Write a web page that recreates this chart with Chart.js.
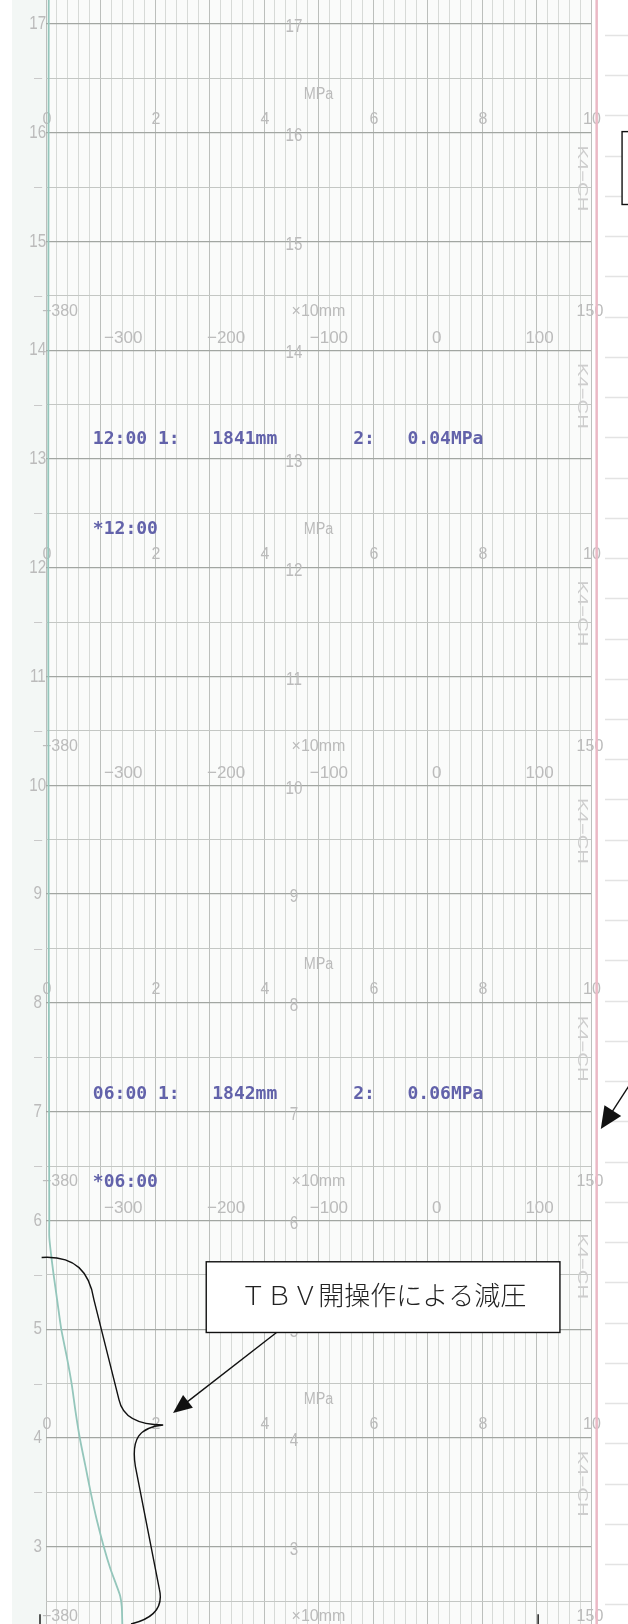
<!DOCTYPE html>
<html>
<head>
<meta charset="utf-8">
<script src="https://cdn.jsdelivr.net/npm/chart.js@4.4.1/dist/chart.umd.min.js"></script>
<style>
  html, body { margin: 0; padding: 0; background: #fff; }
  canvas { display: block; }
</style>
</head>
<body>
<canvas id="chart" width="628" height="1624"></canvas>
<script>
// pen 2 (pressure, MPa), time runs downward
const traceHours = [17.22, 12.0, 6.0, 5.85, 5.7, 5.5, 5.25, 5.0, 4.75, 4.5, 4.25, 4.0, 3.75, 3.5, 3.25, 3.0, 2.8, 2.65, 2.55, 2.45, 2.29];
const tracePressure = [0.05, 0.04, 0.06, 0.06, 0.09, 0.14, 0.21, 0.28, 0.38, 0.47, 0.54, 0.62, 0.72, 0.82, 0.93, 1.06, 1.18, 1.29, 1.36, 1.39, 1.40];

// pen 1 (level, x10mm) is off scale, the pen sits just past the 150 mark
const levelHours = [17.22, 2.29];
const levelPen = [155.5, 155.5];

// recorder printouts
const printTimes = ["12:00", "06:00"];
const printHours = [13.18, 7.16];
const printStarHours = [12.35, 6.35];
const printLevel = [1841, 1842];
const printPressure = [0.04, 0.06];

// printed scale text on the paper
const hourTicks = [17, 16, 15, 14, 13, 12, 11, 10, 9, 8, 7, 6, 5, 4, 3];
const mpaTicks = [0, 2, 4, 6, 8, 10];
const mmTicks = [-300, -200, -100, 0, 100];
const mpaRowHours = [16, 12, 8, 4];
const mmRowHours = [14, 10, 6, 2];
const tagRowHours = [15, 13, 11, 9, 7, 5, 3];

const note = "ＴＢＶ開操作による減圧";

const GRAY = "#bbbbbb";
const BLUE = "#6262aa";

function txt(ctx, s, x, y, font, color, align, sx) {
  ctx.save();
  ctx.translate(x, y);
  ctx.scale(sx || 1, 1);
  ctx.font = font;
  ctx.fillStyle = color;
  ctx.textAlign = align || "center";
  ctx.textBaseline = "middle";
  ctx.fillText(s, 0, 0);
  ctx.restore();
}

function arrow(ctx, x0, y0, x1, y1, len, half) {
  const a = Math.atan2(y1 - y0, x1 - x0);
  ctx.beginPath();
  ctx.moveTo(x0, y0);
  ctx.lineTo(x1 - Math.cos(a) * len * 0.8, y1 - Math.sin(a) * len * 0.8);
  ctx.stroke();
  ctx.beginPath();
  ctx.moveTo(x1, y1);
  ctx.lineTo(x1 - Math.cos(a) * len - Math.sin(a) * half, y1 - Math.sin(a) * len + Math.cos(a) * half);
  ctx.lineTo(x1 - Math.cos(a) * len + Math.sin(a) * half, y1 - Math.sin(a) * len - Math.cos(a) * half);
  ctx.closePath();
  ctx.fill();
}

const paper = {
  id: "paper",
  beforeDraw(chart) {
    const { ctx, chartArea: a } = chart;
    const y = chart.scales.y;
    ctx.save();
    ctx.fillStyle = "#ffffff";
    ctx.fillRect(0, 0, chart.width, chart.height);
    ctx.fillStyle = "#f3f7f5";
    ctx.fillRect(12, 0, a.left - 12, chart.height);
    ctx.fillStyle = "#fafbfa";
    ctx.fillRect(a.left, a.top, a.width, a.height);
    // faint ruling of the next sheet on the right
    ctx.strokeStyle = "#e3e3e3";
    ctx.lineWidth = 1.5;
    for (let h = 16.9; h > 2.4; h -= 0.37) {
      const py = Math.round(y.getPixelForValue(h)) + 0.5;
      ctx.beginPath();
      ctx.moveTo(605, py);
      ctx.lineTo(628, py);
      ctx.stroke();
    }
    ctx.restore();
  },
  beforeDatasetsDraw(chart) {
    const { ctx } = chart;
    const x = chart.scales.x, x2 = chart.scales.x2, y = chart.scales.y;
    const num = "16px 'Liberation Sans', sans-serif";

    // hour numbers: left margin and centre of the sheet
    hourTicks.forEach(h => {
      txt(ctx, String(h), x.getPixelForValue(-0.15), y.getPixelForValue(h), "19px 'Liberation Sans', sans-serif", GRAY, "center", 0.8);
      txt(ctx, String(h), x.getPixelForValue(4.55), y.getPixelForValue(h) + 3, "19px 'Liberation Sans', sans-serif", GRAY, "center", 0.8);
    });
    ctx.save();
    ctx.strokeStyle = "#c9c9c9";
    ctx.lineWidth = 1;
    hourTicks.forEach(h => {
      if (h === 17) return;
      const py = Math.round(y.getPixelForValue(h + 0.5)) + 0.5;
      ctx.beginPath();
      ctx.moveTo(x.getPixelForValue(-0.22), py);
      ctx.lineTo(x.getPixelForValue(-0.07), py);
      ctx.stroke();
    });
    ctx.restore();

    // MPa scale rows
    mpaRowHours.forEach(h => {
      mpaTicks.forEach(v => {
        txt(ctx, String(v), x.getPixelForValue(v) + 1, y.getPixelForValue(h + 0.12), num, GRAY);
      });
      txt(ctx, "MPa", x.getPixelForValue(5.0), y.getPixelForValue(h + 0.35), num, GRAY, "center", 0.9);
    });

    // x10mm scale rows
    mmRowHours.forEach(h => {
      const r1 = y.getPixelForValue(h + 0.36), r2 = y.getPixelForValue(h + 0.11);
      txt(ctx, "\u2212380", x2.getPixelForValue(-384), r1, num, GRAY, "left");
      txt(ctx, "\u00d710mm", x.getPixelForValue(5.0), r1, num, GRAY);
      txt(ctx, "150", x2.getPixelForValue(149), r1, num, GRAY);
      mmTicks.forEach(v => {
        const s = v < 0 ? "\u2212" + Math.abs(v) : String(v);
        txt(ctx, s, x2.getPixelForValue(v) - (v < 0 ? 5 : 0), r2, "17px 'Liberation Sans', sans-serif", GRAY);
      });
    });

    // channel tags along the right edge
    tagRowHours.forEach(h => {
      ctx.save();
      ctx.translate(x.getPixelForValue(9.83), y.getPixelForValue(h + 0.58));
      ctx.rotate(Math.PI / 2);
      txt(ctx, "K4\u2212CH", 0, 0, "15px 'Liberation Sans', sans-serif", "#cdcdcd", "center", 1.35);
      ctx.restore();
    });

    // recorder printouts (blue)
    const mono = "bold 17px 'DejaVu Sans Mono', monospace";
    printTimes.forEach((t, i) => {
      const line = t + " 1:   " + printLevel[i] + "mm       2:   " + printPressure[i].toFixed(2) + "MPa";
      txt(ctx, line, x.getPixelForValue(0.86), y.getPixelForValue(printHours[i]), mono, BLUE, "left", 1.06);
      txt(ctx, "*" + t, x.getPixelForValue(0.86), y.getPixelForValue(printStarHours[i]), mono, BLUE, "left", 1.06);
    });
  },
  afterDraw(chart) {
    const { ctx } = chart;
    const x = chart.scales.x, y = chart.scales.y;
    const P = (v, h) => [x.getPixelForValue(v), y.getPixelForValue(h)];
    ctx.save();
    ctx.strokeStyle = "#111";
    ctx.fillStyle = "#111";
    ctx.lineWidth = 1.4;

    // callout box
    const [bx0, by0] = P(2.94, 5.62), [bx1, by1] = P(9.43, 4.97);
    ctx.fillStyle = "#fff";
    ctx.fillRect(bx0, by0, bx1 - bx0, by1 - by0);
    ctx.strokeRect(bx0, by0, bx1 - bx0, by1 - by0);
    const [tx, ty] = P(6.19, 5.31);
    txt(ctx, note, tx, ty, "300 26px 'Noto Sans CJK JP', sans-serif", "#222");
    ctx.fillStyle = "#111";

    // arrow from the box to the brace
    const [ax0, ay0] = P(4.23, 4.97), [ax1, ay1] = P(2.33, 4.23);
    arrow(ctx, ax0, ay0, ax1, ay1, 19, 8);

    // arrow to the pegged level pen
    const [rx0, ry0] = P(10.7, 7.24), [rx1, ry1] = P(10.18, 6.84);
    arrow(ctx, rx0, ry0, rx1, ry1, 22, 10);

    // curly brace around the pressure drop
    const pts = [
      [-0.08, 5.66], [0.55, 5.68], [0.80, 5.52], [0.88, 5.27],
      [1.34, 4.35],
      [1.40, 4.21], [1.62, 4.12], [2.15, 4.12],
      [1.71, 4.10], [1.56, 3.99], [1.64, 3.74],
      [2.08, 2.61],
      [2.17, 2.42], [1.89, 2.33], [1.56, 2.29]
    ].map(p => P(p[0], p[1]));
    ctx.beginPath();
    ctx.moveTo(...pts[0]);
    ctx.bezierCurveTo(...pts[1], ...pts[2], ...pts[3]);
    ctx.lineTo(...pts[4]);
    ctx.bezierCurveTo(...pts[5], ...pts[6], ...pts[7]);
    ctx.bezierCurveTo(...pts[8], ...pts[9], ...pts[10]);
    ctx.lineTo(...pts[11]);
    ctx.bezierCurveTo(...pts[12], ...pts[13], ...pts[14]);
    ctx.stroke();

    // box cut off at the right edge
    const [cx0, cy0] = P(10.57, 16.01), [, cy1] = P(10.57, 15.34);
    ctx.fillStyle = "#fff";
    ctx.fillRect(cx0, cy0, 20, cy1 - cy0);
    ctx.strokeRect(cx0, cy0, 20, cy1 - cy0);

    // small marks at the bottom edge
    [-0.11, 9.03].forEach(v => {
      const [mx, my] = P(v, 2.38);
      ctx.beginPath();
      ctx.moveTo(mx, my);
      ctx.lineTo(mx, chart.height);
      ctx.stroke();
    });
    ctx.restore();
  }
};

new Chart(document.getElementById("chart"), {
  type: "scatter",
  data: {
    datasets: [
      {
        data: traceHours.map((h, i) => ({ x: tracePressure[i], y: h })),
        showLine: true,
        borderColor: "#94c6bb",
        borderWidth: 1.8,
        pointRadius: 0,
        tension: 0.25,
        xAxisID: "x",
        yAxisID: "y"
      },
      {
        data: levelHours.map((h, i) => ({ x: levelPen[i], y: h })),
        showLine: true,
        borderColor: "#ebb9c5",
        borderWidth: 2.5,
        pointRadius: 0,
        clip: false,
        xAxisID: "x2",
        yAxisID: "y"
      }
    ]
  },
  options: {
    responsive: false,
    animation: false,
    devicePixelRatio: 1,
    layout: { autoPadding: false, padding: { left: 46, right: 37, top: 0, bottom: 0 } },
    plugins: { legend: { display: false }, tooltip: { enabled: false } },
    scales: {
      x: {
        type: "linear", min: 0, max: 10, position: "bottom",
        border: { display: false },
        ticks: { display: false, stepSize: 0.2, includeBounds: false, maxTicksLimit: 1000 },
        grid: {
          drawTicks: false,
          color: c => Math.abs(c.tick.value - Math.round(c.tick.value)) < 1e-6 ? "#bcbfbc" : "#d7dad7",
          lineWidth: 1
        }
      },
      x2: { type: "linear", min: -380, max: 150, display: false },
      y: {
        type: "linear", min: 2.29, max: 17.22,
        border: { display: false },
        ticks: { display: false, stepSize: 0.5, includeBounds: false, maxTicksLimit: 1000 },
        grid: {
          drawTicks: false,
          color: c => Math.abs(c.tick.value - Math.round(c.tick.value)) < 1e-6 ? "#a2a6a2" : "#c4c7c4",
          lineWidth: c => Math.abs(c.tick.value - Math.round(c.tick.value)) < 1e-6 ? 1.3 : 1
        }
      }
    }
  },
  plugins: [paper]
});
</script>
</body>
</html>
